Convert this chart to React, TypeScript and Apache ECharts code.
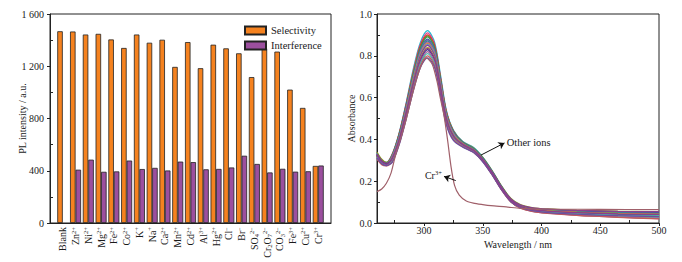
import React, { useEffect, useRef } from "react";
import * as echarts from "echarts";

// ---------- Left panel: PL intensity ----------
const ionLabels = [
  "",
  "Blank",
  "Zn{sup|2+}",
  "Ni{sup|2+}",
  "Mg{sup|2+}",
  "Fe{sup|2+}",
  "Co{sup|2+}",
  "K{sup|+}",
  "Na{sup|+}",
  "Ca{sup|2+}",
  "Mn{sup|2+}",
  "Cd{sup|2+}",
  "Al{sup|3+}",
  "Hg{sup|2+}",
  "Cl{sup|−}",
  "Br{sup|−}",
  "SO{sub|4}{sup|2−}",
  "Cr{sub|2}O{sub|7}{sup|2−}",
  "CO{sub|3}{sup|2−}",
  "Fe{sup|3+}",
  "Cu{sup|2+}",
  "Cr{sup|3+}",
  "",
];
const selectivity = [null, 1468, 1466, 1443, 1448, 1405, 1340, 1443, 1380, 1403, 1195, 1385, 1185, 1365, 1337, 1299, 1117, 1337, 1312, 1021, 881, 437, null];
const interference = [null, null, 408, 485, 392, 395, 478, 413, 422, 402, 470, 466, 411, 414, 425, 515, 452, 387, 415, 393, 396, 440, null];
const plMinorTicks = [200, 600, 1000, 1400];

// ---------- Right panel: absorbance ----------
const wl = [260, 264, 268, 273, 279, 285, 291, 297, 303, 309, 314, 319, 325, 333, 342, 350, 358, 366, 374, 382, 392, 405, 430, 465, 500];
const otherIons = [
  [0.335, 0.3, 0.29, 0.33, 0.435, 0.58, 0.74, 0.865, 0.92, 0.865, 0.71, 0.54, 0.445, 0.39, 0.362, 0.315, 0.25, 0.176, 0.115, 0.085, 0.07, 0.062, 0.056, 0.051, 0.048],
  [0.33, 0.298, 0.288, 0.33, 0.43, 0.575, 0.73, 0.855, 0.91, 0.855, 0.7, 0.535, 0.44, 0.386, 0.358, 0.312, 0.247, 0.174, 0.113, 0.083, 0.068, 0.06, 0.054, 0.049, 0.046],
  [0.325, 0.295, 0.286, 0.325, 0.43, 0.57, 0.72, 0.85, 0.9, 0.85, 0.695, 0.53, 0.44, 0.384, 0.356, 0.31, 0.245, 0.172, 0.112, 0.082, 0.067, 0.059, 0.052, 0.046, 0.043],
  [0.34, 0.305, 0.29, 0.325, 0.425, 0.565, 0.72, 0.84, 0.895, 0.84, 0.69, 0.53, 0.44, 0.388, 0.36, 0.314, 0.25, 0.177, 0.117, 0.088, 0.074, 0.067, 0.061, 0.057, 0.055],
  [0.32, 0.29, 0.282, 0.325, 0.425, 0.565, 0.715, 0.84, 0.89, 0.84, 0.69, 0.525, 0.435, 0.382, 0.354, 0.308, 0.243, 0.17, 0.11, 0.08, 0.064, 0.056, 0.048, 0.04, 0.035],
  [0.33, 0.297, 0.285, 0.32, 0.42, 0.56, 0.705, 0.83, 0.88, 0.83, 0.68, 0.52, 0.435, 0.385, 0.357, 0.31, 0.246, 0.173, 0.113, 0.084, 0.07, 0.063, 0.057, 0.053, 0.051],
  [0.315, 0.287, 0.279, 0.32, 0.415, 0.555, 0.7, 0.825, 0.875, 0.825, 0.675, 0.52, 0.43, 0.38, 0.352, 0.305, 0.24, 0.167, 0.107, 0.078, 0.062, 0.054, 0.045, 0.037, 0.031],
  [0.325, 0.293, 0.283, 0.32, 0.415, 0.55, 0.7, 0.82, 0.87, 0.82, 0.67, 0.515, 0.43, 0.383, 0.355, 0.309, 0.244, 0.171, 0.111, 0.082, 0.067, 0.06, 0.053, 0.048, 0.045],
  [0.318, 0.29, 0.281, 0.318, 0.412, 0.548, 0.695, 0.815, 0.865, 0.815, 0.668, 0.512, 0.428, 0.378, 0.35, 0.303, 0.238, 0.165, 0.105, 0.076, 0.06, 0.052, 0.043, 0.034, 0.028],
  [0.32, 0.29, 0.283, 0.315, 0.41, 0.545, 0.69, 0.81, 0.86, 0.81, 0.665, 0.51, 0.425, 0.38, 0.352, 0.305, 0.24, 0.168, 0.108, 0.08, 0.066, 0.059, 0.052, 0.046, 0.043],
  [0.31, 0.283, 0.277, 0.313, 0.408, 0.54, 0.685, 0.805, 0.855, 0.805, 0.66, 0.507, 0.423, 0.376, 0.348, 0.301, 0.236, 0.163, 0.104, 0.075, 0.059, 0.05, 0.04, 0.031, 0.025],
  [0.328, 0.296, 0.284, 0.312, 0.405, 0.538, 0.68, 0.8, 0.85, 0.8, 0.657, 0.505, 0.42, 0.378, 0.351, 0.306, 0.243, 0.172, 0.114, 0.086, 0.072, 0.066, 0.06, 0.056, 0.054],
  [0.315, 0.286, 0.278, 0.308, 0.4, 0.532, 0.675, 0.79, 0.84, 0.79, 0.65, 0.5, 0.418, 0.374, 0.346, 0.299, 0.234, 0.161, 0.102, 0.073, 0.057, 0.048, 0.038, 0.029, 0.022],
  [0.322, 0.292, 0.281, 0.305, 0.395, 0.525, 0.665, 0.78, 0.83, 0.78, 0.642, 0.495, 0.415, 0.372, 0.345, 0.299, 0.235, 0.163, 0.105, 0.077, 0.062, 0.055, 0.047, 0.041, 0.038],
  [0.31, 0.282, 0.275, 0.3, 0.39, 0.52, 0.658, 0.77, 0.82, 0.77, 0.635, 0.49, 0.41, 0.369, 0.342, 0.296, 0.232, 0.16, 0.101, 0.072, 0.056, 0.047, 0.037, 0.028, 0.021],
  [0.318, 0.288, 0.278, 0.297, 0.387, 0.513, 0.65, 0.763, 0.81, 0.763, 0.627, 0.483, 0.405, 0.367, 0.341, 0.296, 0.233, 0.162, 0.104, 0.076, 0.061, 0.053, 0.045, 0.039, 0.036],
  [0.305, 0.279, 0.273, 0.293, 0.38, 0.507, 0.642, 0.753, 0.8, 0.753, 0.62, 0.477, 0.4, 0.365, 0.339, 0.294, 0.23, 0.158, 0.1, 0.071, 0.055, 0.046, 0.036, 0.027, 0.02],
  [0.312, 0.284, 0.275, 0.29, 0.376, 0.5, 0.634, 0.744, 0.79, 0.744, 0.612, 0.47, 0.395, 0.363, 0.338, 0.293, 0.23, 0.159, 0.102, 0.074, 0.059, 0.05, 0.042, 0.035, 0.03],
  [0.325, 0.293, 0.281, 0.31, 0.4, 0.53, 0.67, 0.785, 0.835, 0.785, 0.645, 0.497, 0.416, 0.375, 0.348, 0.302, 0.238, 0.166, 0.108, 0.079, 0.064, 0.057, 0.05, 0.044, 0.041],
];
const otherColors = [
  "#25b9d0", "#e0488a", "#e4262a", "#8a8a2a", "#3f9b4a", "#3a57a8", "#7f63b8", "#1f9e89", "#b05aa8", "#d3902e",
  "#5b8fd6", "#8c3e90", "#aab03a", "#2d2f86", "#9d5c9b", "#4fb3a9", "#c45a5a", "#6b4ea0", "#8f3d8a",
];
const crWl = [260, 264, 268, 272, 276, 280, 285, 291, 297, 302, 307, 311, 314, 317, 320, 323, 326, 330, 336, 342, 350, 357, 370, 382, 400, 450, 500];
const crAbs = [0.15, 0.163, 0.19, 0.24, 0.33, 0.4, 0.5, 0.635, 0.745, 0.79, 0.76, 0.68, 0.595, 0.515, 0.4, 0.27, 0.18, 0.133, 0.105, 0.095, 0.088, 0.083, 0.077, 0.07, 0.067, 0.065, 0.064];
const absMinorTicks = [0.1, 0.3, 0.5, 0.7, 0.9];
const wlTicks = [300, 350, 400, 450, 500];
const wlMinorTicks = [275, 325, 375, 425, 475];

const FONT = "'Liberation Serif', 'Times New Roman', 'DejaVu Serif', serif";
const INK = "#1a1a1a";

export default function App() {
  const ref = useRef<HTMLDivElement>(null);
  useEffect(() => {
    if (!ref.current) return;
    const chart = echarts.init(ref.current, null, { renderer: "svg" });
    const rich = {
      sup: { fontSize: 6.5, verticalAlign: "top", fontFamily: FONT, color: INK, lineHeight: 12 },
      sub: { fontSize: 6.5, verticalAlign: "bottom", fontFamily: FONT, color: INK, lineHeight: 12 },
    };
    const lineSeries: any[] = otherIons.map((c, k) => ({
      type: "line",
      xAxisIndex: 1,
      yAxisIndex: 2,
      data: wl.map((x, i) => [x, c[i]]),
      showSymbol: false,
      smooth: 0.3,
      silent: true,
      lineStyle: { width: 1.25, color: otherColors[k] },
      z: 3,
    }));
    lineSeries.push({
      type: "line",
      xAxisIndex: 1,
      yAxisIndex: 2,
      data: crWl.map((x, i) => [x, crAbs[i]]),
      showSymbol: false,
      smooth: 0.25,
      silent: true,
      lineStyle: { width: 1.2, color: "#a0606a" },
      z: 4,
      markLine: {
        silent: true,
        symbol: ["none", "arrow"],
        symbolSize: 6,
        lineStyle: { color: "#111", width: 1, type: "solid" },
        label: { show: false },
        data: [
          [{ coord: [327, 0.203] }, { coord: [317, 0.223] }],
          [{ coord: [348.5, 0.325] }, { coord: [368.5, 0.383] }],
        ],
      },
      markPoint: {
        silent: true,
        symbol: "circle",
        symbolSize: 0,
        data: [
          {
            coord: [316, 0.228],
            label: { show: true, position: "left", distance: 1, formatter: "Cr{sup|3+}", fontSize: 10, fontFamily: FONT, color: INK, rich },
          },
          {
            coord: [369.5, 0.385],
            label: { show: true, position: "right", distance: 1, formatter: "Other ions", fontSize: 10.5, fontFamily: FONT, color: INK },
          },
        ],
      },
    });

    const axisLine = { show: true, lineStyle: { color: "#222", width: 1 } };
    const option: any = {
      animation: false,
      textStyle: { fontFamily: FONT, color: INK },
      grid: [
        { left: 50, top: 14, width: 281, height: 209, show: true, borderColor: "#222", borderWidth: 1 },
        { left: 377, top: 14, width: 282, height: 209, show: true, borderColor: "#222", borderWidth: 1 },
      ],
      legend: {
        data: ["Selectivity", "Interference"],
        orient: "vertical",
        left: 239,
        top: 20,
        itemWidth: 21,
        itemHeight: 8,
        itemGap: 4,
        icon: "rect",
        textStyle: { fontSize: 10.5, fontFamily: FONT, color: INK },
      },
      xAxis: [
        {
          gridIndex: 0,
          type: "category",
          data: ionLabels,
          boundaryGap: false,
          axisLine,
          axisTick: { show: false },
          axisLabel: { interval: 0, rotate: 90, margin: 4, fontSize: 10, color: INK, fontFamily: FONT, lineHeight: 12, rich },
          splitLine: { show: false },
        },
        {
          gridIndex: 1,
          type: "value",
          position: "bottom",
          min: 260,
          max: 500,
          axisLine,
          axisTick: { show: true, customValues: wlTicks, length: 3, lineStyle: { color: "#222" } },
          axisLabel: { customValues: wlTicks, fontSize: 10, margin: 2, color: INK, fontFamily: FONT },
          splitLine: { show: false },
          name: "Wavelength / nm",
          nameLocation: "middle",
          nameGap: 14,
          nameMoveOverlap: false,
          nameTextStyle: { fontSize: 10, fontFamily: FONT, color: INK, padding: [2, 0, 0, 0] },
        },
        {
          gridIndex: 1,
          type: "value",
          position: "bottom",
          min: 260,
          max: 500,
          axisLine: { show: false },
          axisTick: { show: true, inside: true, customValues: wlMinorTicks, length: 3, lineStyle: { color: "#222" } },
          axisLabel: { show: false },
          splitLine: { show: false },
        },
      ],
      yAxis: [
        {
          gridIndex: 0,
          type: "value",
          position: "left",
          min: 0,
          max: 1600,
          interval: 400,
          axisLine,
          axisTick: { show: true, length: 3, lineStyle: { color: "#222" } },
          axisLabel: {
            fontSize: 10,
            margin: 6,
            color: INK,
            fontFamily: FONT,
            formatter: (v: number) => (v >= 1000 ? `${Math.floor(v / 1000)} ${String(v % 1000).padStart(3, "0")}` : String(v)),
          },
          splitLine: { show: false },
          name: "PL intensity / a.u.",
          nameLocation: "middle",
          nameGap: 22.5,
          nameMoveOverlap: false,
          nameTextStyle: { fontSize: 10, fontFamily: FONT, color: INK },
        },
        {
          gridIndex: 0,
          type: "value",
          position: "left",
          min: 0,
          max: 1600,
          axisLine: { show: false },
          axisTick: { show: true, inside: true, customValues: plMinorTicks, length: 3, lineStyle: { color: "#222" } },
          axisLabel: { show: false },
          splitLine: { show: false },
        },
        {
          gridIndex: 1,
          type: "value",
          position: "left",
          min: 0,
          max: 1,
          interval: 0.2,
          axisLine,
          axisTick: { show: true, length: 3, lineStyle: { color: "#222" } },
          axisLabel: { fontSize: 10, margin: 5, color: INK, fontFamily: FONT, formatter: (v: number) => v.toFixed(1) },
          splitLine: { show: false },
          name: "Absorbance",
          nameLocation: "middle",
          nameGap: 20.5,
          nameMoveOverlap: false,
          nameTextStyle: { fontSize: 10, fontFamily: FONT, color: INK },
        },
        {
          gridIndex: 1,
          type: "value",
          position: "left",
          min: 0,
          max: 1,
          axisLine: { show: false },
          axisTick: { show: true, inside: true, customValues: absMinorTicks, length: 3, lineStyle: { color: "#222" } },
          axisLabel: { show: false },
          splitLine: { show: false },
        },
      ],
      series: [
        {
          name: "Selectivity",
          type: "bar",
          xAxisIndex: 0,
          yAxisIndex: 0,
          data: selectivity,
          barWidth: 5.5,
          barGap: "0%",
          silent: true,
          itemStyle: { color: "#f5821f", borderColor: "#222", borderWidth: 0.8 },
        },
        {
          name: "Interference",
          type: "bar",
          xAxisIndex: 0,
          yAxisIndex: 0,
          data: interference,
          barWidth: 5.5,
          barGap: "0%",
          silent: true,
          itemStyle: { color: "#9b4f9e", borderColor: "#222", borderWidth: 0.8 },
        },
        ...lineSeries,
      ],
    };
    chart.setOption(option);
    return () => chart.dispose();
  }, []);
  return (
    <div
      ref={ref}
      style={{ position: "fixed", left: 0, top: 0, width: 682, height: 262, background: "#fff" }}
    />
  );
}
